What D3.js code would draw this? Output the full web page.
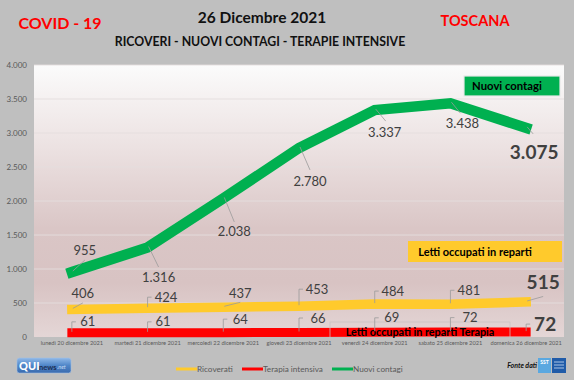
<!DOCTYPE html>
<html><head><meta charset="utf-8">
<script src="https://cdn.jsdelivr.net/npm/d3@7"></script>
<style>html,body{margin:0;padding:0;background:#bfbfbf;}svg{display:block;font-family:Lato,"Open Sans",sans-serif;}</style>
</head><body><svg id="c" width="574" height="380"></svg>
<script>
const categories = ["lunedì 20 dicembre 2021","martedì 21 dicembre 2021","mercoledì 22 dicembre 2021","giovedì 23 dicembre 2021","venerdì 24 dicembre 2021","sabato 25 dicembre 2021","domenica 26 dicembre 2021"];
const ricoverati = [406,424,437,453,484,481,515];
const terapiaIntensiva = [61,61,64,66,69,72,72];
const nuoviContagi = [955,1316,2038,2780,3337,3438,3075];
const yTicks = [0,500,1000,1500,2000,2500,3000,3500,4000];
const seriesNames = ["Ricoverati","Terapia intensiva","Nuovi contagi"];

// label layout (offsets from the data point), kept apart from the data
const layoutContagi = [
 {dx:13,dy:-22,t:"d",ex:13,ey:-12},{dx:11,dy:30,t:"d",ex:11,ey:19.5},{dx:11,dy:33.5,t:"d",ex:11,ey:23.5},
 {dx:11,dy:33,t:"d",ex:11,ey:22},{dx:10,dy:22,t:"d",ex:11,ey:11},{dx:12,dy:20,t:"d",ex:10,ey:10},
 {dx:8,dy:24,t:"d",ex:7,ey:6,big:true}];
const layoutRicoverati = [
 {dx:11,dy:-15.5,t:"d",ex:11,ey:-6.5},{dx:18.5,dy:-11,t:"e"},{dx:17,dy:-14,t:"d",ex:17,ey:-5},
 {dx:18,dy:-17,t:"e"},{dx:18,dy:-13,t:"e"},{dx:18.5,dy:-14,t:"e"},{dx:17,dy:-20,t:"d",ex:17,ey:-5.5,big:true}];
const layoutTerapia = [
 {dx:16,dy:-11,t:"e"},{dx:15.5,dy:-11,t:"e"},{dx:17,dy:-13.5,t:"e"},{dx:19,dy:-14.5,t:"e"},
 {dx:17,dy:-14.5,t:"e"},{dx:19.5,dy:-14.5,t:"e"},{dx:19,dy:-8,t:"e",big:true}];

const fmt = d3.formatLocale({decimal:",",thousands:".",grouping:[3],currency:["","€"]}).format(",d");
const svg = d3.select("#c");
const W=574,H=380;
svg.append("rect").attr("width",W).attr("height",H).attr("fill","#bfbfbf");

const L=34,R=564,T=65,B=337;
const x = d3.scaleBand().domain(categories).range([L,R]);
const cx = c => x(c)+x.bandwidth()/2;
const y = d3.scaleLinear().domain([0,4000]).range([B,T]);

const defs = svg.append("defs");
const g = defs.append("linearGradient").attr("id","pg").attr("x1",0).attr("y1",0).attr("x2",0).attr("y2",1);
[[0,"#fbfbfb"],[0.3,"#ece2e2"],[0.6,"#dac6c6"],[0.8,"#d8c3c3"],[1,"#e4d6d6"]].forEach(s=>g.append("stop").attr("offset",s[0]).attr("stop-color",s[1]));
const lg = defs.append("linearGradient").attr("id","lg").attr("x1",0).attr("y1",0).attr("x2",0).attr("y2",1);
[[0,"#8fb8e8"],[0.5,"#4f86c8"],[1,"#3a6aae"]].forEach(s=>lg.append("stop").attr("offset",s[0]).attr("stop-color",s[1]));

svg.append("rect").attr("x",L).attr("y",T).attr("width",R-L).attr("height",B-T).attr("fill","url(#pg)");

// grid
svg.append("g").selectAll("line").data(yTicks.filter(d=>d>0)).join("line")
 .attr("x1",L).attr("x2",R).attr("y1",d=>y(d)).attr("y2",d=>y(d))
 .attr("stroke","#e4dede").attr("stroke-width",0.9);

// y axis
const ya = svg.append("g").attr("transform",`translate(${L-7},0)`)
 .call(d3.axisLeft(y).tickValues(yTicks).tickFormat(fmt).tickSize(0).tickPadding(0));
ya.select(".domain").remove();
ya.selectAll("text").attr("fill","#595959").attr("font-size","8px").attr("font-family","Lato");

// x axis
const xa = svg.append("g").attr("transform",`translate(0,${B+4})`)
 .call(d3.axisBottom(x).tickSize(0).tickPadding(0));
xa.select(".domain").remove();
xa.selectAll("text").attr("fill","#595959").attr("font-size","5.7px").attr("font-family","Lato").attr("dy","0.71em");

// lines
const line = d3.line().x((d,i)=>cx(categories[i])).y(d=>y(d));
const series = [
 {vals:terapiaIntensiva,color:"#ff0000",w:9,lay:layoutTerapia},
 {vals:ricoverati,color:"#ffca2c",w:9.5,lay:layoutRicoverati},
 {vals:nuoviContagi,color:"#00b050",w:10.5,lay:layoutContagi}];
series.forEach(s=>{
 svg.append("path").datum(s.vals).attr("d",line).attr("fill","none").attr("stroke",s.color)
  .attr("stroke-width",s.w).attr("stroke-linecap","square").attr("stroke-linejoin","miter");
});

// annotation box outline (Terapia)
svg.append("rect").attr("x",330).attr("y",322).attr("width",180).attr("height",17)
 .attr("fill","none").attr("stroke","#c9c3c3").attr("stroke-width",0.75);
svg.append("text").attr("x",420).attr("y",332.5).attr("dy","0.35em").attr("text-anchor","middle")
 .attr("font-weight","bold").attr("font-size","10.8px").attr("fill","#000").text("Letti occupati in reparti Terapia");

// data labels
series.forEach(s=>{
 s.vals.forEach((v,i)=>{
  const l=s.lay[i], px=cx(categories[i]), py=y(v);
  const lx=px+l.dx, ly=py+l.dy;
  const t=svg.append("text").attr("x",lx).attr("y",ly).attr("dy","0.35em").attr("text-anchor","middle")
   .attr("fill","#404040").attr("font-size",l.big?"19px":"13px").attr("font-weight",l.big?"bold":"normal").text(fmt(v));
  const bw=t.node().getComputedTextLength();
  let pts;
  if(l.t==="e"){ pts=[[px,py-1],[px,ly],[Math.min(px+4,lx-bw/2-2),ly]]; }
  else { pts=[[px+1,py-1],[px+l.ex,py+l.ey]]; }
  svg.append("path").attr("d",d3.line()(pts)).attr("fill","none").attr("stroke","#9a9a9a").attr("stroke-width",0.8);
 });
});

// annotation boxes
const nb = svg.append("g");
nb.append("rect").attr("x",464).attr("y",76).attr("width",96).attr("height",20).attr("fill","#00b050").attr("stroke","#e8e8e8").attr("stroke-width",1.2);
nb.append("text").attr("x",507).attr("y",86.5).attr("dy","0.35em").attr("text-anchor","middle").attr("font-weight","bold").attr("font-size","11.3px").attr("fill","#000").text("Nuovi contagi");
const yb = svg.append("g");
yb.append("rect").attr("x",408).attr("y",241).attr("width",154).attr("height",21).attr("fill","#ffca2c");
yb.append("text").attr("x",475).attr("y",252).attr("dy","0.35em").attr("text-anchor","middle").attr("font-weight","bold").attr("font-size","11px").attr("fill","#000").text("Letti occupati in reparti");

// titles
svg.append("text").attr("x",60).attr("y",23).attr("dy","0.35em").attr("text-anchor","middle").attr("font-weight","bold").attr("font-size","16px").attr("fill","#ff0000").text("COVID - 19");
svg.append("text").attr("x",262).attr("y",18).attr("dy","0.35em").attr("text-anchor","middle").attr("font-weight","bold").attr("font-size","15.5px").attr("fill","#111").text("26 Dicembre 2021");
svg.append("text").attr("x",260).attr("y",42).attr("dy","0.35em").attr("text-anchor","middle").attr("font-weight","bold").attr("font-size","12.3px").attr("fill","#111").text("RICOVERI - NUOVI CONTAGI - TERAPIE INTENSIVE");
svg.append("text").attr("x",475).attr("y",21).attr("dy","0.35em").attr("text-anchor","middle").attr("font-weight","bold").attr("font-size","14.5px").attr("fill","#ff0000").text("TOSCANA");

// legend
const legColors=["#ffca2c","#ff0000","#00b050"];
const legX=[176,242,332];
seriesNames.forEach((n,i)=>{
 svg.append("line").attr("x1",legX[i]).attr("x2",legX[i]+21).attr("y1",369).attr("y2",369).attr("stroke",legColors[i]).attr("stroke-width",3);
 svg.append("text").attr("x",legX[i]+21).attr("y",369).attr("dy","0.35em").attr("font-size","8.2px").attr("fill","#595959").text(n);
});

// QUInews logo
const lo=svg.append("g");
lo.append("rect").attr("x",17).attr("y",358).attr("width",54).attr("height",15).attr("rx",2.5).attr("fill","url(#lg)").attr("stroke","#9fc0e6").attr("stroke-width",0.6);
lo.append("text").attr("x",19).attr("y",366).attr("dy","0.35em").attr("font-weight","900").attr("font-size","11px").attr("fill","#fff").text("QUI");
lo.append("text").attr("x",39).attr("y",367).attr("dy","0.35em").attr("font-weight","bold").attr("font-size","7.5px").attr("fill","#1c2f55").text("news");
lo.append("text").attr("x",57).attr("y",367).attr("dy","0.35em").attr("font-style","italic").attr("font-size","5.5px").attr("fill","#c8ddf5").text(".net");

// Fonte dati
svg.append("text").attr("x",537).attr("y",366).attr("dy","0.35em").attr("text-anchor","end").attr("font-style","italic").attr("font-weight","bold").attr("font-size","7px").attr("fill","#111").text("Fonte dati");
svg.append("rect").attr("x",538).attr("y",358).attr("width",13).attr("height",15).attr("fill","#5aa8e0");
svg.append("text").attr("x",544.5).attr("y",362).attr("dy","0.35em").attr("text-anchor","middle").attr("font-weight","bold").attr("font-size","5px").attr("fill","#fff").text("SST");
svg.append("rect").attr("x",552).attr("y",358).attr("width",14).attr("height",15).attr("fill","#1f5ba8");
[362,365,368].forEach(v=>svg.append("line").attr("x1",554).attr("x2",564).attr("y1",v).attr("y2",v).attr("stroke","#cfe0f5").attr("stroke-width",0.8));
</script></body></html>
